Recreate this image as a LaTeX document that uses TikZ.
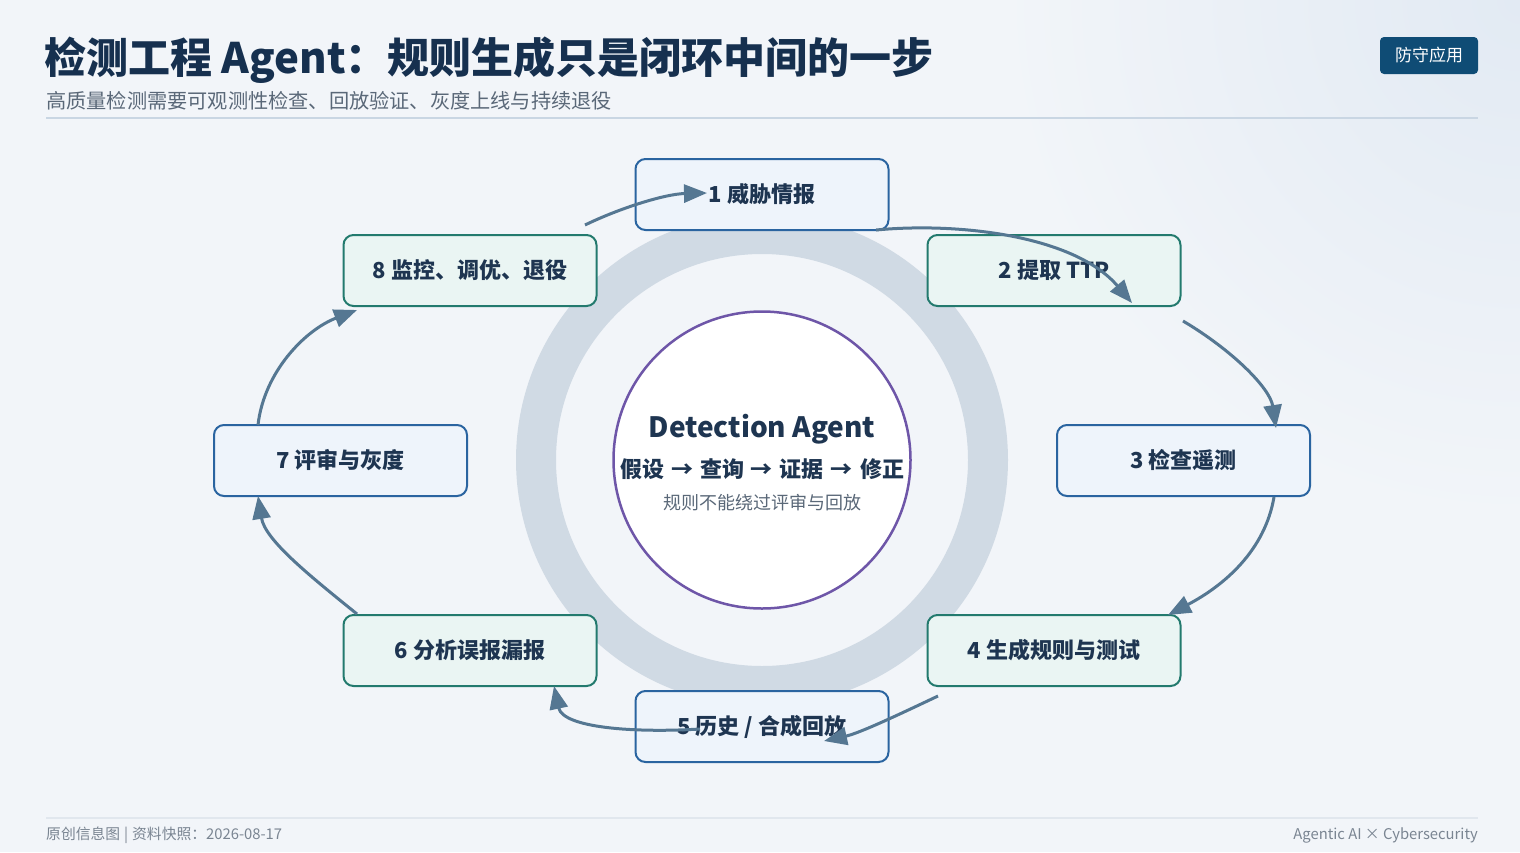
\documentclass[tikz,border=0pt]{standalone}
\usepackage{fontspec}
\setmainfont{Noto Sans CJK SC}
\usetikzlibrary{arrows.meta}
\definecolor{bg}{HTML}{F2F5F9}
\definecolor{bgtr}{HTML}{E2EAF3}
\definecolor{titlec}{HTML}{16304F}
\definecolor{subc}{HTML}{5A6878}
\definecolor{rulec}{HTML}{C9D6E3}
\definecolor{badge}{HTML}{0F4C75}
\definecolor{ringc}{HTML}{D0DAE4}
\definecolor{purp}{HTML}{6E56A8}
\definecolor{txt}{HTML}{1E3551}
\definecolor{bbord}{HTML}{2A64A0}
\definecolor{bfill}{HTML}{EEF4FB}
\definecolor{gbord}{HTML}{237A6E}
\definecolor{gfill}{HTML}{EAF5F3}
\definecolor{arr}{HTML}{557792}
\definecolor{footc}{HTML}{7A8592}
\definecolor{footl}{HTML}{E1E7EE}
\begin{document}
\begin{tikzpicture}[x=1pt,y=-1pt,
  box/.style={draw, rounded corners=10pt, line width=2pt, minimum width=253pt, minimum height=71pt,
    font=\bfseries\fontsize{22}{24}\selectfont, text=txt, inner sep=0pt},
  bluebox/.style={box, draw=bbord, fill=bfill},
  greenbox/.style={box, draw=gbord, fill=gfill},
  flow/.style={draw=arr, line width=3pt, -{Triangle[length=23pt,width=18pt]}},
  lbl/.style={inner sep=0pt, anchor=base west},
]
\useasboundingbox (0,0) rectangle (1520,852);
\fill[bg] (0,0) rectangle (1520,852);
\begin{scope}
  \clip (0,0) rectangle (1520,852);
  \shade[inner color=bgtr, outer color=bg] (1520,0) circle[radius=520pt];
\end{scope}

% header
\node[lbl, text=titlec, font=\bfseries\fontsize{42}{46}\selectfont] (title) at (44,73) {检测工程 Agent：规则生成只是闭环中间的一步};
\node[lbl, text=subc, font=\fontsize{20.2}{22}\selectfont] (sub) at (46,108) {高质量检测需要可观测性检查、回放验证、灰度上线与持续退役};
\draw[rulec, line width=2pt] (46,118) -- (1478,118);
\node[fill=badge, rounded corners=4pt, minimum width=98pt, minimum height=37pt, inner sep=0pt,
  text=white, font=\fontsize{17}{20}\selectfont] (badge) at (1429,55.5) {防守应用};

% ring and core
\draw[ringc, line width=40pt] (762,460) circle[radius=226pt];
\node[circle, draw=purp, line width=2.5pt, fill=white, minimum size=297pt, inner sep=0pt] (core) at (762,460) {};
\node[text=txt, font=\bfseries\fontsize{28}{30}\selectfont, inner sep=0pt] (ct1) at (762,429) {Detection Agent};
\node[text=txt, font=\bfseries\fontsize{22}{24}\selectfont, inner sep=0pt] (ct2) at (762,469) {假设\hspace{7pt}→\hspace{7pt}查询\hspace{7pt}→\hspace{7pt}证据\hspace{7pt}→\hspace{7pt}修正};
\node[text=subc, font=\fontsize{18}{20}\selectfont, inner sep=0pt] (ct3) at (762,503) {规则不能绕过评审与回放};

% steps
\node[bluebox]  (s1) at (762,194.5) {1 威胁情报};
\node[greenbox] (s2) at (1054,270.5) {2 提取 TTP};
\node[bluebox]  (s3) at (1183.5,460.5) {3 检查遥测};
\node[greenbox] (s4) at (1054,650.5) {4 生成规则与测试};
\node[bluebox]  (s5) at (762,726.5) {5 历史 / 合成回放};
\node[greenbox] (s6) at (470,650.5) {6 分析误报漏报};
\node[bluebox]  (s7) at (340.5,460.5) {7 评审与灰度};
\node[greenbox] (s8) at (470,270.5) {8 监控、调优、退役};

% arrow end points
\coordinate (a81s) at (585,225);   \coordinate (a81e) at (707,193);
\coordinate (a12s) at (876,230);   \coordinate (a12e) at (1132,303);
\coordinate (a23s) at (1183,321);  \coordinate (a23e) at (1276,428);
\coordinate (a34s) at (1274,497);  \coordinate (a34e) at (1168,615);
\coordinate (a45s) at (938,696);   \coordinate (a45e) at (824,741);
\coordinate (a56s) at (700,729);   \coordinate (a56e) at (554,686);
\coordinate (a67s) at (357,614);   \coordinate (a67e) at (258,496);
\coordinate (a78s) at (258,425);   \coordinate (a78e) at (357,310);

\draw[flow] (a81s) .. controls (620,208) and (665,194) .. (a81e);
\draw[flow] (a12s) .. controls (960,222) and (1075,236) .. (a12e);
\draw[flow] (a23s) .. controls (1232,350) and (1270,388) .. (a23e);
\draw[flow] (a34s) .. controls (1265,550) and (1225,585) .. (a34e);
\draw[flow] (a45s) .. controls (900,714) and (860,733) .. (a45e);
\draw[flow] (a56s) .. controls (635,733) and (563,728) .. (a56e);
\draw[flow] (a67s) .. controls (310,576) and (265,540) .. (a67e);
\draw[flow] (a78s) .. controls (264,372) and (305,330) .. (a78e);

% footer
\draw[footl, line width=1.5pt] (46,818) -- (1478,818);
\node[inner sep=0pt, anchor=base west, text=footc, font=\fontsize{14.8}{16}\selectfont] (fl) at (46,839) {原创信息图\hspace{4pt}|\hspace{4pt}资料快照：2026-08-17};
\node[inner sep=0pt, anchor=base east, text=footc, font=\fontsize{14.8}{16}\selectfont] (fr) at (1478,839) {Agentic AI × Cybersecurity};
\end{tikzpicture}
\end{document}
